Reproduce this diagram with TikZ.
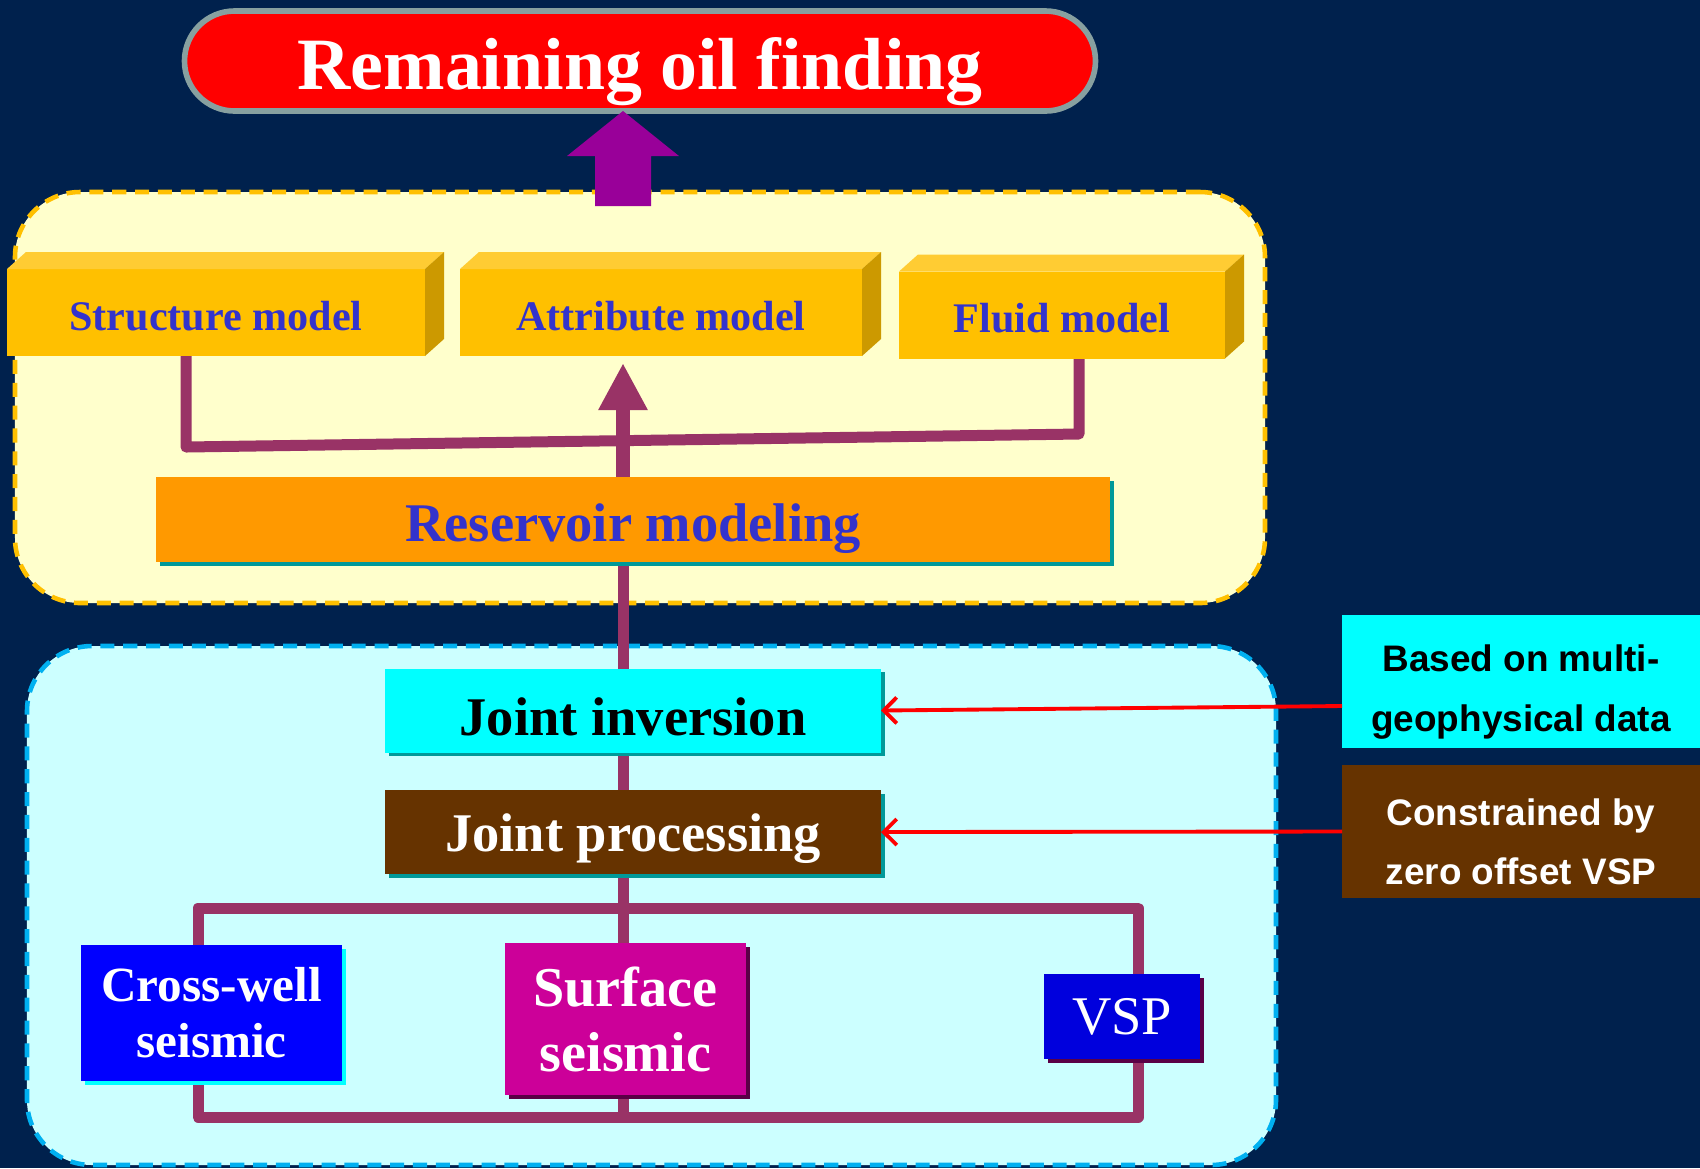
\documentclass[tikz,border=0pt]{standalone}
\usepackage{fontspec}
\setmainfont{Liberation Serif}
\newfontfamily\labelsans{Liberation Sans}
\usetikzlibrary{arrows.meta,shadows}

\definecolor{navy}{RGB}{0,33,77}
\definecolor{titlegray}{RGB}{135,160,160}
\definecolor{plum}{RGB}{153,0,153}
\definecolor{paleyellow}{RGB}{255,255,204}
\definecolor{gold}{RGB}{255,192,0}
\definecolor{modelfront}{RGB}{255,192,0}
\definecolor{modeltop}{RGB}{255,204,51}
\definecolor{modelside}{RGB}{204,153,0}
\definecolor{modeltext}{RGB}{51,51,204}
\definecolor{wire}{RGB}{153,51,102}
\definecolor{orange2}{RGB}{255,153,0}
\definecolor{palecyan}{RGB}{204,255,255}
\definecolor{skyline}{RGB}{0,176,240}
\definecolor{cyan2}{RGB}{0,255,255}
\definecolor{brown2}{RGB}{102,51,0}
\definecolor{shadowteal}{RGB}{0,153,153}
\definecolor{magenta2}{RGB}{204,0,153}
\definecolor{vspblue}{RGB}{0,0,221}
\definecolor{darkplum}{RGB}{90,0,70}

\pgfdeclarelayer{regions}
\pgfdeclarelayer{wires}
\pgfsetlayers{regions,wires,main}

\begin{document}
\begin{tikzpicture}[
	every node/.style={inner sep=0pt, outer sep=0pt},
	castshadow/.style={drop shadow={shadow xshift=0.35mm, shadow yshift=-0.35mm, fill=#1, opacity=1}},
	model/.style={fill=modelfront, minimum height=0.87cm, text=modeltext, text height=10.3pt, font=\bfseries\fontsize{12}{14}\selectfont},
	flat/.style={minimum height=0.84cm, castshadow=shadowteal, text height=14.4pt, font=\bfseries\fontsize{15.5}{18}\selectfont},
	source/.style={text=white, align=center},
	note/.style={minimum width=3.58cm, minimum height=1.33cm, align=center, text height=30.5pt, font=\labelsans\bfseries\fontsize{10.5}{17}\selectfont},
	region/.style={dashed, dash pattern=on 4pt off 2.5pt, line width=1.3pt, rounded corners=0.65cm},
	link/.style={draw=wire, line width=0.11cm, line join=round},
	feed/.style={draw=red, line width=1.1pt, -{Straight Barb[length=1.3mm,width=2.6mm]}},
]
	\begin{pgfonlayer}{regions}
		\fill[navy] (0,0) rectangle (17,-11.68);
		\node[region, draw=gold, fill=paleyellow, minimum width=12.5cm, minimum height=4.11cm] (upper) at (6.40,-3.975) {};
		\node[region, draw=skyline, fill=palecyan, minimum width=12.49cm, minimum height=5.19cm] (lower) at (6.515,-9.055) {};
	\end{pgfonlayer}
	\useasboundingbox (0,0) rectangle (17,-11.68);
	
	\node[draw=titlegray, line width=1.6pt, fill=red, rounded corners=0.5cm, minimum width=9.11cm, minimum height=1.0cm, text=white, text height=20.7pt, font=\bfseries\fontsize{21}{24}\selectfont] (TT) at (6.40,-0.61) {Remaining oil finding};
	
	\coordinate (spine) at (6.23,-5);
	\fill[plum] (TT.south -| spine) -- ++(0.56,-0.45) -- ++(-0.28,0) -- ++(0,-0.50) -- ++(-0.56,0) -- ++(0,0.50) -- ++(-0.28,0) -- cycle;
	
	\node[model, minimum width=4.18cm] (SM) at (2.16,-3.125) {Structure model};
	\node[model, minimum width=4.02cm] (AM) at (6.61,-3.125) {Attribute model};
	\node[model, minimum width=3.26cm] (FM) at (10.62,-3.15) {Fluid model};
	\foreach \n in {SM,AM,FM} {
		\fill[modeltop] (\n.north west) -- ++(0.19,0.17) -- ([shift={(0.19,0.17)}]\n.north east) -- (\n.north east) -- cycle;
		\fill[modelside] (\n.north east) -- ++(0.19,0.17) -- ([shift={(0.19,0.17)}]\n.south east) -- (\n.south east) -- cycle;
	}
	
	\node[flat, fill=orange2, text=modeltext, text height=15.7pt, minimum width=9.54cm, minimum height=0.85cm] (RM) at (6.33,-5.195) {Reservoir modeling};
	\node[flat, fill=cyan2, text=black, minimum width=4.96cm] (JI) at (6.33,-7.105) {Joint inversion};
	\node[flat, fill=brown2, text=white, minimum width=4.96cm] (JP) at (6.33,-8.32) {Joint processing};
	
	\node[source, fill=blue, castshadow=cyan2, minimum width=2.61cm, minimum height=1.36cm, font=\bfseries\fontsize{14}{16}\selectfont] (CW) at (2.115,-10.13) {Cross-well\\seismic};
	\node[source, fill=magenta2, castshadow=darkplum, minimum width=2.41cm, minimum height=1.52cm, font=\bfseries\fontsize{16}{18.5}\selectfont] (SS) at (6.255,-10.19) {Surface\\seismic};
	\node[source, fill=vspblue, castshadow=darkplum, minimum width=1.56cm, minimum height=0.85cm, font=\fontsize{15.5}{18}\selectfont] (VSP) at (11.22,-10.165) {VSP};
	
	\node[note, fill=cyan2, text=black] (BD) at (15.21,-6.815) {Based on multi-\\geophysical data};
	\node[note, fill=brown2, text=white] (CB) at (15.21,-8.315) {Constrained by\\zero offset VSP};
	
	\begin{pgfonlayer}{wires}
		\coordinate (jl) at (1.86,-4.47);
		\coordinate (jr) at (10.79,-4.34);
		\draw[link] (SM.south -| jl) -- (jl) -- (jr) -- (FM.south -| jr);
		\draw[link] (RM.south -| spine) -- (JI.north -| spine);
		\draw[link] (JI.south -| spine) -- (JP.north -| spine);
		\coordinate (busNW) at (1.98,-9.08);
		\coordinate (busSE) at (11.38,-11.17);
		\draw[link] (busNW) rectangle (busSE);
		\draw[link] (JP.south -| spine) -- (spine |- busSE);
	\end{pgfonlayer}
	
	\draw[link, line width=0.14cm, -{Triangle[length=4.7mm,width=4.6mm]}, shorten >=0.07cm] (RM.north -| spine) -- (AM.south -| spine);
	
	\draw[feed] ([yshift=-0.245cm]BD.west) -- (JI.east);
	\draw[feed] (CB.west) -- (JP.east);
\end{tikzpicture}
\end{document}
